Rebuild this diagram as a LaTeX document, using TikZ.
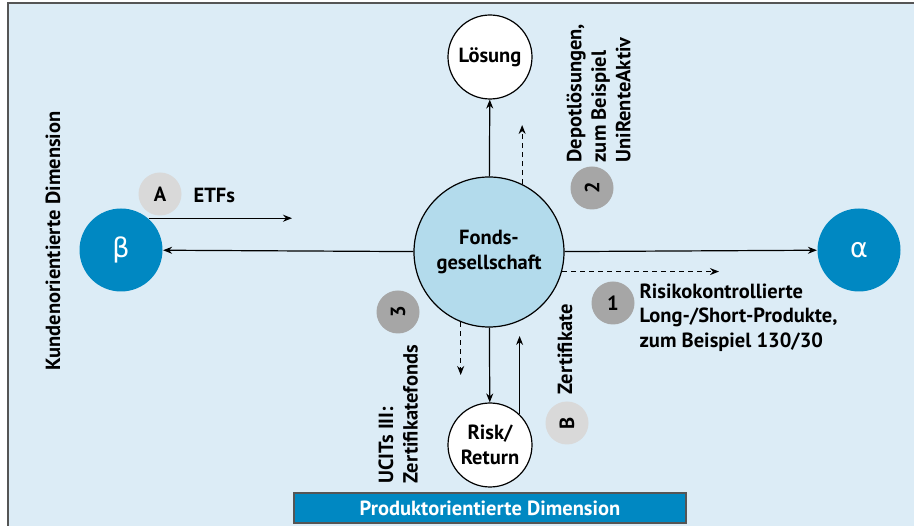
\documentclass[tikz,border=0pt]{standalone}
\usepackage{fontspec}
\setmainfont{PT Sans}
\newfontfamily\griech{DejaVu Sans}
\usetikzlibrary{arrows.meta}

\definecolor{hintergrund}{RGB}{220,236,246}
\definecolor{fondsblau}{RGB}{179,219,236}
\definecolor{dunkelblau}{RGB}{0,136,194}
\definecolor{hellgrau}{RGB}{217,217,217}
\definecolor{mittelgrau}{RGB}{166,166,166}
\definecolor{rahmen}{RGB}{85,85,85}

\tikzset{
  txt/.style={font=\bfseries\fontsize{20.5}{24.5}\selectfont},
  kreis/.style={draw,circle,fill=white,minimum size=84pt,inner sep=0pt,align=center,txt},
  pol/.style={circle,fill=dunkelblau,minimum size=83pt,inner sep=0pt,text=white,font=\griech\fontsize{27}{27}\selectfont},
  nummer/.style={circle,minimum size=43pt,inner sep=0pt,txt},
  quer/.style={rotate=90,align=left,inner sep=0pt,txt},
  gestrichelt/.style={dash pattern=on 5pt off 4pt},
}

\begin{document}
\begin{tikzpicture}[x=1pt,y=-1pt,line width=1.2pt,>={Stealth[length=9pt,width=7pt]}]
	\useasboundingbox (0,0) rectangle (914,526);
	\draw[line width=2pt,draw=rahmen,fill=hintergrund] (8,3) rectangle (940,560);
	% Kreise
	\node[draw,circle,fill=fondsblau,minimum size=150pt,inner sep=0pt,align=center,txt] (F) at (489,252) {Fonds-\\gesellschaft};
	\node[kreis] (L) at (490,57) {Lösung};
	\node[kreis] (R) at (490,445) {Risk/\\Return};
	\node[pol] (beta) at (121,250) {β};
	\node[pol] (alpha) at (859,250) {α};
	% Pfeile
	\draw[->] (F) -- (beta);
	\draw[->] (F) -- (alpha);
	\draw[->] (F) -- (L);
	\draw[->] (F) -- (R);
	\coordinate (rr) at (R.46);
	\coordinate (rf) at (rr |- 0,336);
	\draw[->] (rr) -- (rf);
	\coordinate (etf) at (beta.49);
	\coordinate (etfend) at (292,0 |- etf);
	\draw[->] (etf) -- (etfend);
	\coordinate (d2) at (F.64);
	\coordinate (d2end) at (d2 |- 0,125);
	\draw[gestrichelt,->] (d2) -- (d2end);
	\coordinate (d1) at (F.-15);
	\coordinate (d1end) at (719,0 |- d1);
	\draw[gestrichelt,->] (d1) -- (d1end);
	\coordinate (d3) at (F.-112);
	\coordinate (d3end) at (d3 |- 0,375);
	\draw[gestrichelt,->] (d3) -- (d3end);
	% Nummern und Texte
	\node[nummer,fill=hellgrau] (A) at (160,194) {A};
	\node[txt,anchor=west,inner sep=0pt] (etftxt) at (193,195) {ETFs};
	\node[nummer,fill=hellgrau,rotate=90] (B) at (567,423) {B};
	\node[quer,anchor=west] (ztxt) at (565,395) {Zertifikate};
	\node[nummer,fill=mittelgrau] (n1) at (613,303) {1};
	\node[txt,anchor=north west,align=left,inner sep=0pt] (n1txt) at (639,283) {Risikokontrollierte\\Long-/Short-Produkte,\\zum Beispiel 130/30};
	\node[nummer,fill=mittelgrau,rotate=90] (n2) at (592,188) {2};
	\node[quer,anchor=north west] (n2txt) at (566,163) {Depotlösungen,\\zum Beispiel\\UniRenteAktiv};
	\node[nummer,fill=mittelgrau,rotate=90] (n3) at (398,312) {3};
	\node[quer,anchor=north west] (n3txt) at (378,484) {UCITs III:\\Zertifikatefonds};
	% Dimensionen
	\node[quer,anchor=center] (kunde) at (53,241) {Kundenorientierte Dimension};
	\node[draw=rahmen,fill=dunkelblau,text=white,minimum width=392pt,minimum height=30pt,inner sep=0pt,txt] (produkt) at (490,508) {Produktorientierte Dimension};
\end{tikzpicture}
\end{document}
